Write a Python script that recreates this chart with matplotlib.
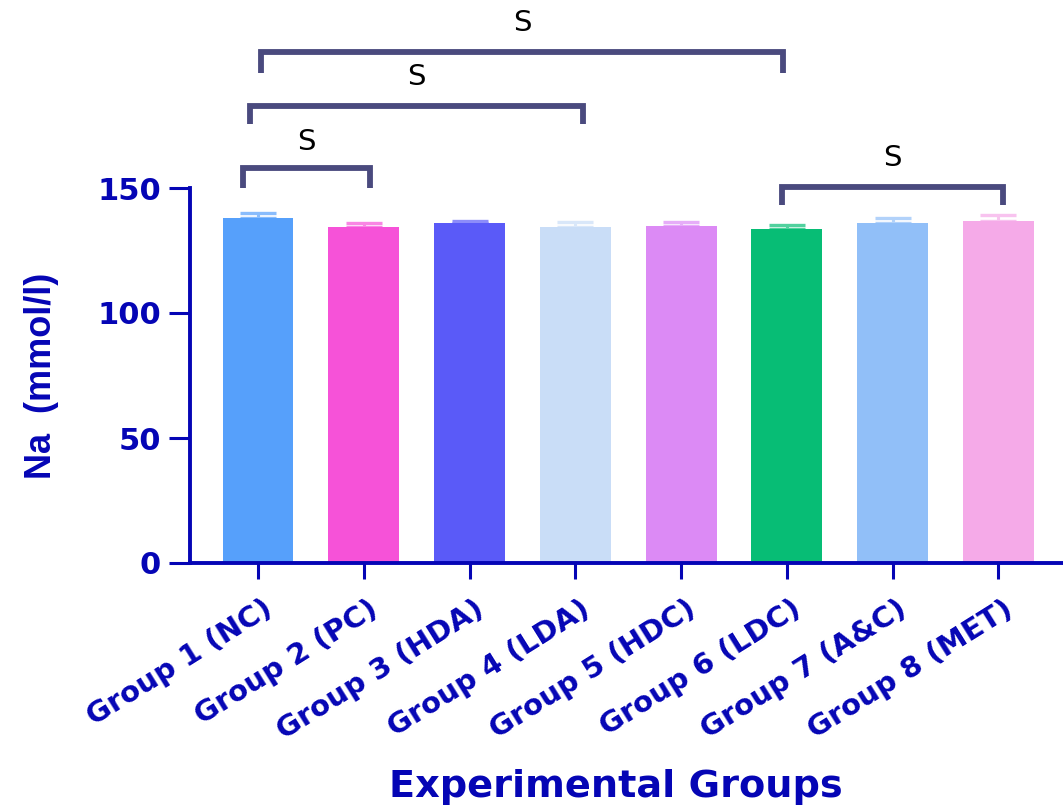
import matplotlib
matplotlib.use("Agg")
import matplotlib.pyplot as plt
import matplotlib.transforms as mtransforms
import matplotlib.colors as mcolors
import numpy as np

groups = ["Group 1 (NC)", "Group 2 (PC)", "Group 3 (HDA)", "Group 4 (LDA)",
          "Group 5 (HDC)", "Group 6 (LDC)", "Group 7 (A&C)", "Group 8 (MET)"]
na_mean = [138.1, 134.5, 136.1, 134.5, 134.9, 133.6, 136.1, 136.8]
na_sem = [2.0, 1.4, 0.8, 2.0, 1.6, 1.6, 1.8, 2.4]
bar_colors = ["#56a0fb", "#f652d8", "#5a5af8", "#c9ddf7",
              "#dc8af5", "#07bd75", "#91bff8", "#f5aae8"]
yticks = [0, 50, 100, 150]
# significance comparisons (group index pairs) and label
comparisons = [(0, 5), (0, 3), (0, 1), (5, 7)]
sig_label = "S"

AXIS_BLUE = "#0505b5"
BRACKET = "#4a4a7e"

W, H = 1063, 807
fig = plt.figure(figsize=(W / 100, H / 100), dpi=100)
ax = fig.add_axes([190 / W, 1 - 563 / H, 1 - 190 / W, 563 / H])

x = np.arange(len(groups))
ax.bar(x, na_mean, width=0.67, color=bar_colors, edgecolor="none", zorder=2)
for xi, m, s, c in zip(x, na_mean, na_sem, bar_colors):
    ec = mcolors.to_rgb(c)
    ec = tuple(0.7 * v + 0.3 for v in ec)
    ax.errorbar([xi], [m], yerr=[[0], [s]], fmt="none", ecolor=ec,
                elinewidth=2.2, capsize=13, capthick=2.4, zorder=1)

ax.set_xlim(-0.643, 7.61)
ax.set_ylim(0, 563 / 2.5)

for side in ["top", "right"]:
    ax.spines[side].set_visible(False)
for side in ["left", "bottom"]:
    ax.spines[side].set_color(AXIS_BLUE)
    ax.spines[side].set_linewidth(2.8)
ax.spines["left"].set_bounds(0, 150)

ax.set_yticks(yticks)
ax.set_yticklabels([str(t) for t in yticks], fontsize=22, fontweight="bold",
                   family="DejaVu Sans", color=AXIS_BLUE)
ax.tick_params(axis="y", length=15, width=2.2, color=AXIS_BLUE, pad=6)

ax.set_xticks(x)
ax.set_xticklabels(groups, rotation=32, ha="right", va="center",
                   rotation_mode="anchor", fontsize=21, fontweight="bold",
                   family="DejaVu Sans", color=AXIS_BLUE)
ax.tick_params(axis="x", length=11.5, width=2.2, color=AXIS_BLUE, pad=20)
offset = mtransforms.ScaledTranslation(12 / 100, 0, fig.dpi_scale_trans)
for lab in ax.get_xticklabels():
    lab.set_transform(lab.get_transform() + offset)

# significance brackets: (x_left, x_right, y_bar, y_leg_bottom, y_text)
bracket_geom = [
    (0.03, 4.96, 204.4, 196.0, 216.0),
    (-0.08, 3.07, 182.8, 175.5, 194.5),
    (-0.14, 1.06, 158.0, 150.0, 168.5),
    (4.95, 7.04, 150.4, 143.0, 162.0),
]
for (i, j), (xl, xr, yb, yl, yt) in zip(comparisons, bracket_geom):
    ax.plot([xl, xl, xr, xr], [yl, yb, yb, yl], color=BRACKET, lw=4.2,
            solid_joinstyle="miter", solid_capstyle="butt", clip_on=False,
            zorder=3)
    ax.text((xl + xr) / 2, yt, sig_label, ha="center", va="center",
            fontsize=21, color="black", family="DejaVu Sans")

fig.text(42 / W, 1 - 376 / H, "Na  (mmol/l)", rotation=90, ha="center",
         va="center", fontsize=26, fontweight="bold", family="Liberation Sans",
         color=AXIS_BLUE)
fig.text(616 / W, 1 - 787 / H, "Experimental Groups", ha="center",
         va="center", fontsize=27.5, fontweight="bold", family="DejaVu Sans",
         color=AXIS_BLUE)

fig.savefig("out.png", dpi=100)
